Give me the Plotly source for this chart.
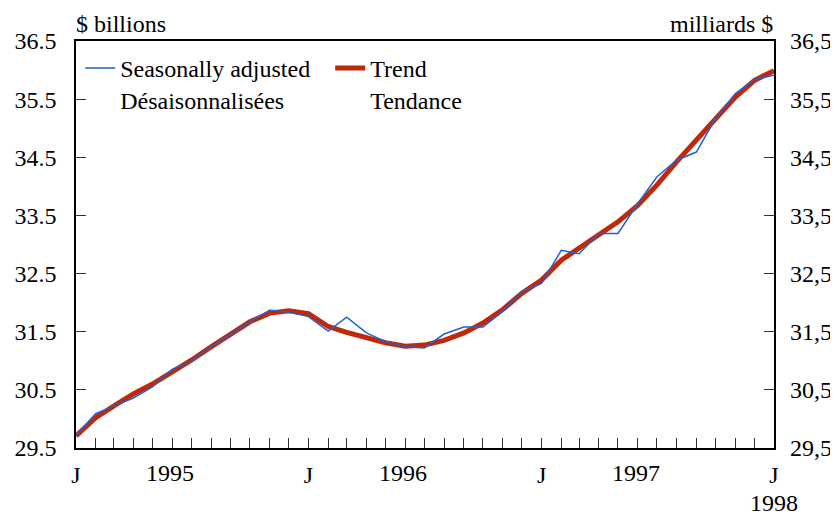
import pandas as pd
import plotly.graph_objects as go

months = pd.date_range("1995-01-01", periods=37, freq="MS")

seasonally_adjusted = [
    29.72, 30.09, 30.22, 30.36, 30.55, 30.85, 30.99, 31.24, 31.46, 31.67,
    31.87, 31.84, 31.76, 31.51, 31.75, 31.48, 31.33, 31.24, 31.22, 31.46,
    31.58, 31.58, 31.85, 32.19, 32.33, 32.90, 32.84, 33.19, 33.19, 33.70,
    34.16, 34.45, 34.59, 35.16, 35.59, 35.84, 35.91,
]
trend = [
    29.71, 30.02, 30.22, 30.43, 30.60, 30.80, 31.01, 31.24, 31.46, 31.67,
    31.82, 31.86, 31.81, 31.59, 31.49, 31.39, 31.31, 31.25, 31.27, 31.35,
    31.48, 31.65, 31.88, 32.16, 32.39, 32.73, 32.93, 33.16, 33.39, 33.67,
    34.02, 34.42, 34.79, 35.17, 35.53, 35.82, 35.99,
]

y_ticks = [29.5, 30.5, 31.5, 32.5, 33.5, 34.5, 35.5, 36.5]
y_left_labels = ["29.5", "30.5", "31.5", "32.5", "33.5", "34.5", "35.5", "36.5"]
y_right_labels = ["29,5", "30,5", "31,5", "32,5", "33,5", "34,5", "35,5", "36,5"]
x_ticks = ["1995-01-01", "1996-01-01", "1997-01-01", "1998-01-01"]
x_tick_labels = ["J", "J", "J", "J"]
year_positions = ["1995-05-29", "1996-05-29", "1997-05-29"]
year_labels = ["1995", "1996", "1997"]

FONT = "Liberation Serif, Times New Roman, Times, serif"
BLUE = "#2060d0"
RED = "#c0280a"

fig = go.Figure()
fig.add_trace(go.Scatter(
    x=months, y=trend, mode="lines", name="Trend<br>Tendance",
    line=dict(color=RED, width=5), yaxis="y", legendrank=2,
))
fig.add_trace(go.Scatter(
    x=months, y=seasonally_adjusted, mode="lines",
    name="Seasonally adjusted<br>Désaisonnalisées",
    line=dict(color=BLUE, width=1.5), yaxis="y2", legendrank=1,
))

axis_font = dict(family=FONT, size=24, color="black")

# page body has an 8px margin, so the figure is sized to fill the rest
fig.update_layout(
    width=830, height=511,
    margin=dict(l=68, r=64, t=33, b=71, autoexpand=False),
    paper_bgcolor="white", plot_bgcolor="white",
    font=axis_font,
    showlegend=True,
    legend=dict(
        orientation="h", x=0.006, y=0.988, xanchor="left", yanchor="top",
        xref="paper", yref="paper",
        font=dict(family=FONT, size=24, color="black"),
        bgcolor="rgba(0,0,0,0)", valign="top", entrywidth=205,
        itemwidth=30,
    ),
    xaxis=dict(
        type="date", range=["1995-01-01", "1998-01-01"],
        tickvals=x_ticks, ticktext=x_tick_labels,
        ticks="inside", ticklen=10, tickcolor="#333", tickwidth=1,
        minor=dict(dtick="M1", tick0="1995-01-01", ticks="inside",
                   ticklen=10, tickcolor="#333", tickwidth=1, showgrid=False),
        showline=True, linecolor="black", linewidth=1.5, mirror=True,
        showgrid=False, zeroline=False, tickfont=axis_font,
        ticklabelstandoff=4,
    ),
    yaxis=dict(
        range=[29.5, 36.5], tickvals=y_ticks, ticktext=y_left_labels,
        ticks="inside", ticklen=10, tickcolor="#333", tickwidth=1,
        showline=True, linecolor="black", linewidth=1.5, mirror=True,
        showgrid=False, zeroline=False, tickfont=axis_font,
        ticklabelstandoff=13,
    ),
    yaxis2=dict(
        range=[29.5, 36.5], tickvals=y_ticks, ticktext=y_right_labels,
        overlaying="y", side="right",
        ticks="inside", ticklen=10, tickcolor="#333", tickwidth=1,
        showline=False, showgrid=False, zeroline=False, tickfont=axis_font,
        ticklabelstandoff=15,
    ),
)

for pos, lab in zip(year_positions, year_labels):
    fig.add_annotation(x=pos, y=0, xref="x", yref="paper", text=lab,
                       showarrow=False, yanchor="top", yshift=-10,
                       font=axis_font)
fig.add_annotation(x="1998-01-01", y=0, xref="x", yref="paper", text="1998",
                   showarrow=False, yanchor="top", yshift=-40, font=axis_font)
fig.add_annotation(x=0, y=1, xref="paper", yref="paper", text="$ billions",
                   showarrow=False, xanchor="left", yanchor="bottom",
                   xshift=-2, yshift=2, font=axis_font)
fig.add_annotation(x=1, y=1, xref="paper", yref="paper", text="milliards $",
                   showarrow=False, xanchor="right", yanchor="bottom",
                   xshift=1, yshift=2, font=axis_font)

fig.write_html("out.html")
